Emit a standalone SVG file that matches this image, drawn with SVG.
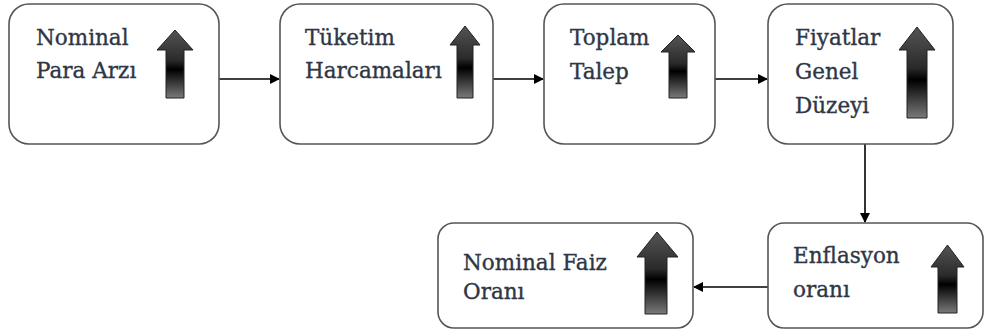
<svg xmlns="http://www.w3.org/2000/svg" width="985" height="332" viewBox="0 0 985 332">
<style>
.box{fill:#fff;stroke:#555;stroke-width:1.6}
.t{font-family:"DejaVu Serif","Liberation Serif",serif;font-size:21.5px;fill:#2f3645;stroke:#2f3645;stroke-width:0.35}
.up{fill:url(#g);stroke:#222;stroke-width:1}
.c{stroke:#000;stroke-width:1.6;fill:none}
</style>
<defs>
<linearGradient id="g" x1="0" y1="0" x2="0" y2="1">
<stop offset="0" stop-color="#555"/>
<stop offset="0.45" stop-color="#2a2a2a"/>
<stop offset="0.58" stop-color="#000"/>
<stop offset="1" stop-color="#7a7a7a"/>
</linearGradient>
<marker id="ah" markerWidth="10" markerHeight="10" refX="9" refY="5" orient="auto" markerUnits="userSpaceOnUse">
<path d="M0,0 L10,5 L0,10 Z" fill="#000"/>
</marker>
</defs>
<g id="connectors">
<line class="c" x1="219" y1="79" x2="279" y2="79" marker-end="url(#ah)"/>
<line class="c" x1="493" y1="79" x2="543" y2="79" marker-end="url(#ah)"/>
<line class="c" x1="715" y1="79" x2="767" y2="79" marker-end="url(#ah)"/>
<line class="c" x1="865" y1="144" x2="865" y2="222" marker-end="url(#ah)"/>
<line class="c" x1="768" y1="287" x2="694" y2="287" marker-end="url(#ah)"/>
</g>
<g id="n1">
<rect class="box" x="9" y="4" width="210" height="140" rx="20"/>
<text class="t" x="36" y="45">Nominal</text>
<text class="t" x="36" y="78">Para Arzı</text>
<path class="up" d="M166,98 L166,50 L157,50 L175,30 L193,50 L184,50 L184,98 Z"/>
</g>
<g id="n2">
<rect class="box" x="280" y="4" width="213" height="140" rx="20"/>
<text class="t" x="305" y="45">Tüketim</text>
<text class="t" x="305" y="78">Harcamaları</text>
<path class="up" d="M457,98 L457,45 L450,45 L465,26 L480,45 L473,45 L473,98 Z"/>
</g>
<g id="n3">
<rect class="box" x="544" y="4" width="171" height="140" rx="20"/>
<text class="t" x="570" y="45">Toplam</text>
<text class="t" x="570" y="79">Talep</text>
<path class="up" d="M669,98 L669,52 L661,52 L678,35 L695,52 L687,52 L687,98 Z"/>
</g>
<g id="n4">
<rect class="box" x="768" y="4" width="185" height="140" rx="20"/>
<text class="t" x="795" y="45">Fiyatlar</text>
<text class="t" x="795" y="79">Genel</text>
<text class="t" x="795" y="113">Düzeyi</text>
<path class="up" d="M907,118 L907,50 L899,50 L917,27 L935,50 L927,50 L927,118 Z"/>
</g>
<g id="n5">
<rect class="box" x="768" y="223" width="215" height="105" rx="16"/>
<text class="t" x="793" y="263">Enflasyon</text>
<text class="t" x="793" y="297">oranı</text>
<path class="up" d="M938,313 L938,267 L931,267 L947.5,245 L964,267 L957,267 L957,313 Z"/>
</g>
<g id="n6">
<rect class="box" x="438" y="223" width="255" height="105" rx="16"/>
<text class="t" x="463" y="270">Nominal Faiz</text>
<text class="t" x="463" y="299">Oranı</text>
<path class="up" d="M645,314 L645,257 L637,257 L657,232 L678,257 L667,257 L667,314 Z"/>
</g>
</svg>
